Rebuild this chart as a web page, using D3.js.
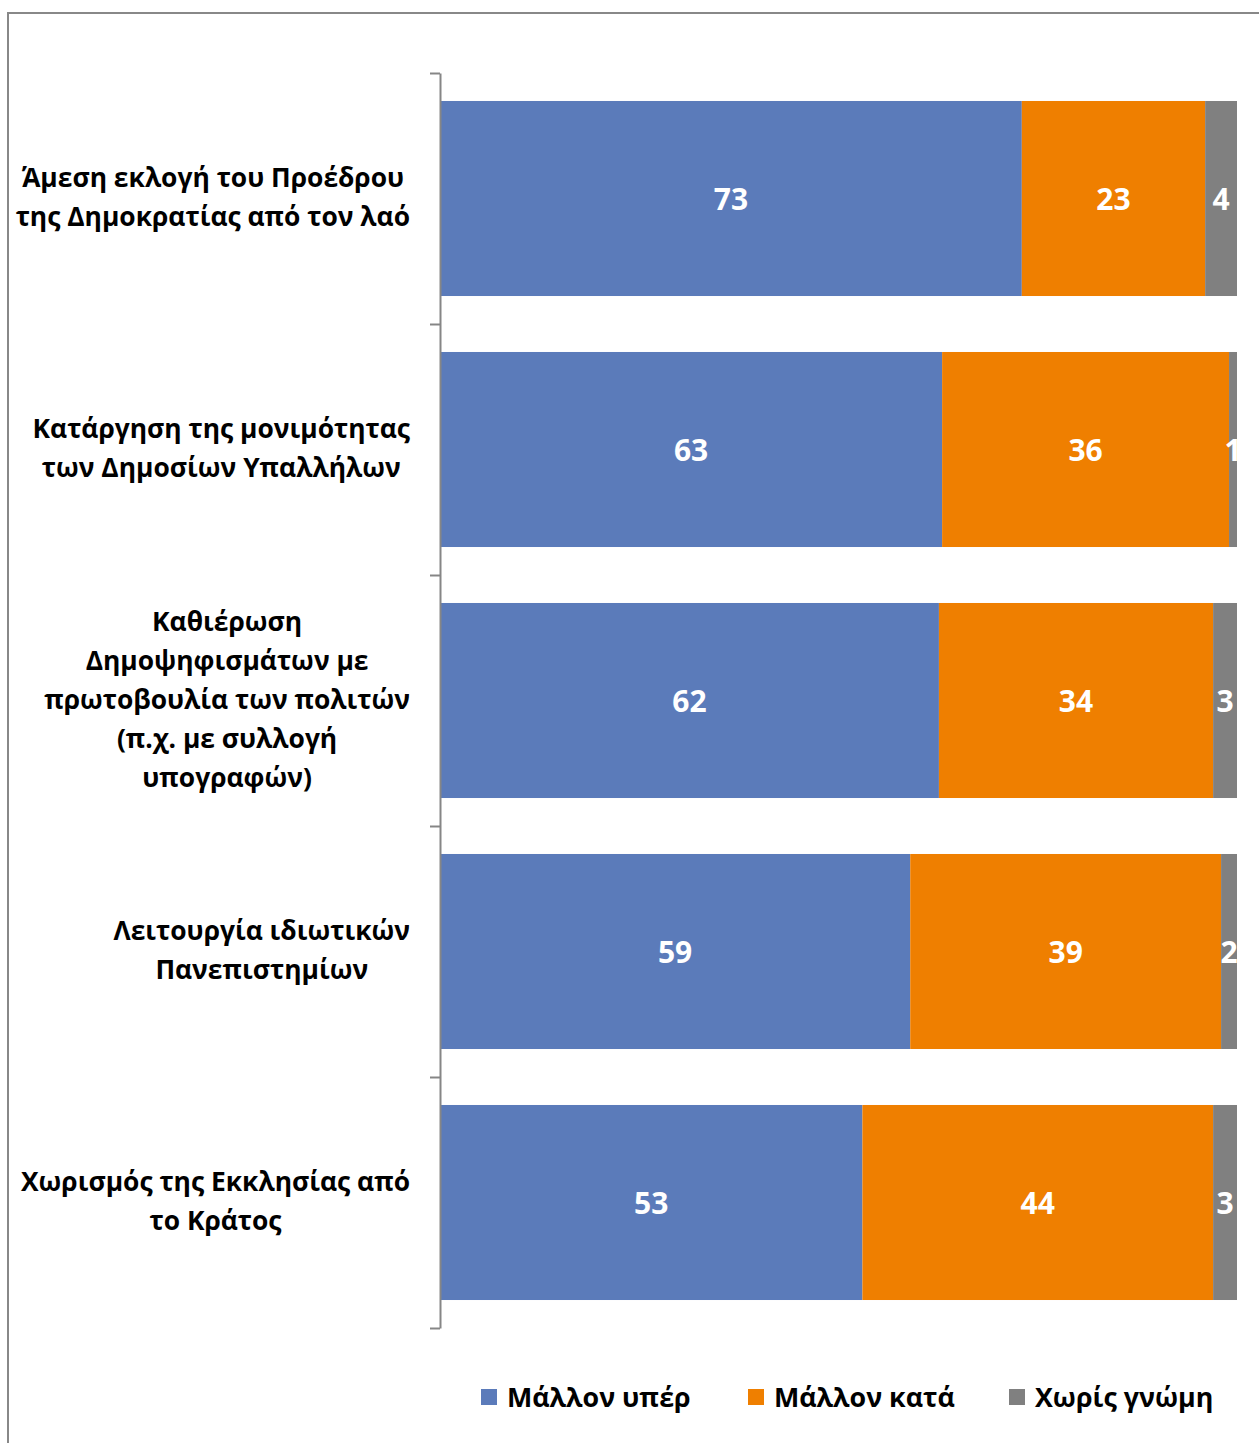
<!DOCTYPE html>
<html>
<head>
<meta charset="utf-8">
<script src="https://cdn.jsdelivr.net/npm/d3@7/dist/d3.min.js"></script>
<style>
  html, body { margin: 0; padding: 0; background: #fff; }
  svg { display: block; }
  text { font-family: "Open Sans", "Noto Sans", sans-serif; font-weight: 700; }
</style>
</head>
<body>
<svg id="chart" width="1259" height="1443"></svg>
<script>
// ---- data ----
const categories = [
  "Άμεση εκλογή του Προέδρου\nτης Δημοκρατίας από τον λαό",
  "Κατάργηση της μονιμότητας\nτων Δημοσίων Υπαλλήλων",
  "Καθιέρωση\nΔημοψηφισμάτων με\nπρωτοβουλία των πολιτών\n(π.χ. με συλλογή\nυπογραφών)",
  "Λειτουργία ιδιωτικών\nΠανεπιστημίων",
  "Χωρισμός της Εκκλησίας από\nτο Κράτος"
];
const seriesNames = ["Μάλλον υπέρ", "Μάλλον κατά", "Χωρίς γνώμη"];
const favour    = [73, 63, 62.6, 59, 53];
const against   = [23, 36, 34.4, 39, 44];
const noOpinion = [4, 1, 3, 2, 3];
const favourLabels    = ["73", "63", "62", "59", "53"];
const againstLabels   = ["23", "36", "34", "39", "44"];
const noOpinionLabels = ["4", "1", "3", "2", "3"];
const colors = ["#5B7BBA", "#EF7F00", "#808080"];

// ---- build ----
const svg = d3.select("#chart");
const W = 1259, H = 1443;

// outer chart border
svg.append("rect")
  .attr("x", 8).attr("y", 13)
  .attr("width", W + 20).attr("height", H + 20)
  .attr("fill", "#fff").attr("stroke", "#888").attr("stroke-width", 2);

const plotLeft = 440, plotRight = 1237, plotTop = 73, plotBottom = 1328;

const x = d3.scaleLinear().domain([0, 100]).range([plotLeft, plotRight]);
const y = d3.scaleBand().domain(d3.range(categories.length))
  .range([plotTop, plotBottom]).paddingInner(0.223).paddingOuter(0.1115);

const seriesVals = [favour, against, noOpinion];
const seriesLabels = [favourLabels, againstLabels, noOpinionLabels];

const rows = categories.map((c, i) => {
  let acc = 0;
  return seriesVals.map((arr, s) => {
    const seg = { row: i, s, x0: acc, x1: acc + arr[i], label: seriesLabels[s][i] };
    acc += arr[i];
    return seg;
  });
});
const segs = rows.flat();

svg.append("defs").append("clipPath").attr("id", "plotclip")
  .append("rect").attr("x", plotLeft).attr("y", plotTop)
  .attr("width", plotRight - plotLeft + 1).attr("height", plotBottom - plotTop);

svg.append("g").selectAll("rect").data(segs).join("rect")
  .attr("x", d => x(d.x0))
  .attr("y", d => y(d.row))
  .attr("width", d => x(d.x1) - x(d.x0))
  .attr("height", y.bandwidth())
  .attr("fill", d => colors[d.s]);

svg.append("g").attr("clip-path", "url(#plotclip)")
  .selectAll("text").data(segs).join("text")
  .attr("x", d => (x(d.x0) + x(d.x1)) / 2)
  .attr("y", d => y(d.row) + y.bandwidth() / 2)
  .attr("text-anchor", "middle")
  .attr("dominant-baseline", "central")
  .attr("fill", "#fff")
  .attr("font-size", 30)
  .text(d => d.label);

// axis with ticks at band boundaries
const tickScale = d3.scaleLinear().domain([0, categories.length]).range([plotTop, plotBottom]);
const axisG = svg.append("g").attr("transform", `translate(${plotLeft},0)`)
  .call(d3.axisLeft(tickScale).tickValues(d3.range(categories.length + 1))
    .tickSize(10).tickSizeOuter(0).tickFormat(""));
axisG.selectAll("path, line").attr("stroke", "#868686").attr("stroke-width", 2);

// category labels
const labelRight = 410, lineH = 39;
const catG = svg.append("g");
categories.forEach((c, i) => {
  const lines = c.split("\n");
  const t = catG.append("text")
    .attr("text-anchor", "middle")
    .attr("font-size", 26.4)
    .attr("fill", "#000");
  const spans = lines.map((l, k) => t.append("tspan").text(l));
  const maxW = d3.max(spans, sp => sp.node().getComputedTextLength());
  const cx = labelRight - maxW / 2;
  const cy = y(i) + y.bandwidth() / 2 - 2;
  spans.forEach((sp, k) => {
    sp.attr("x", cx)
      .attr("y", cy + (k - (lines.length - 1) / 2) * lineH)
      .attr("dominant-baseline", "central");
  });
});

// legend
const legendX = [481, 748, 1009];
const legY = 1397;
const leg = svg.append("g");
seriesNames.forEach((n, s) => {
  leg.append("rect").attr("x", legendX[s]).attr("y", legY - 8)
    .attr("width", 16).attr("height", 16).attr("fill", colors[s]);
  leg.append("text").attr("x", legendX[s] + 26).attr("y", legY - 1)
    .attr("dominant-baseline", "central")
    .attr("font-size", 26.8).attr("fill", "#000").text(n);
});
</script>
</body>
</html>
